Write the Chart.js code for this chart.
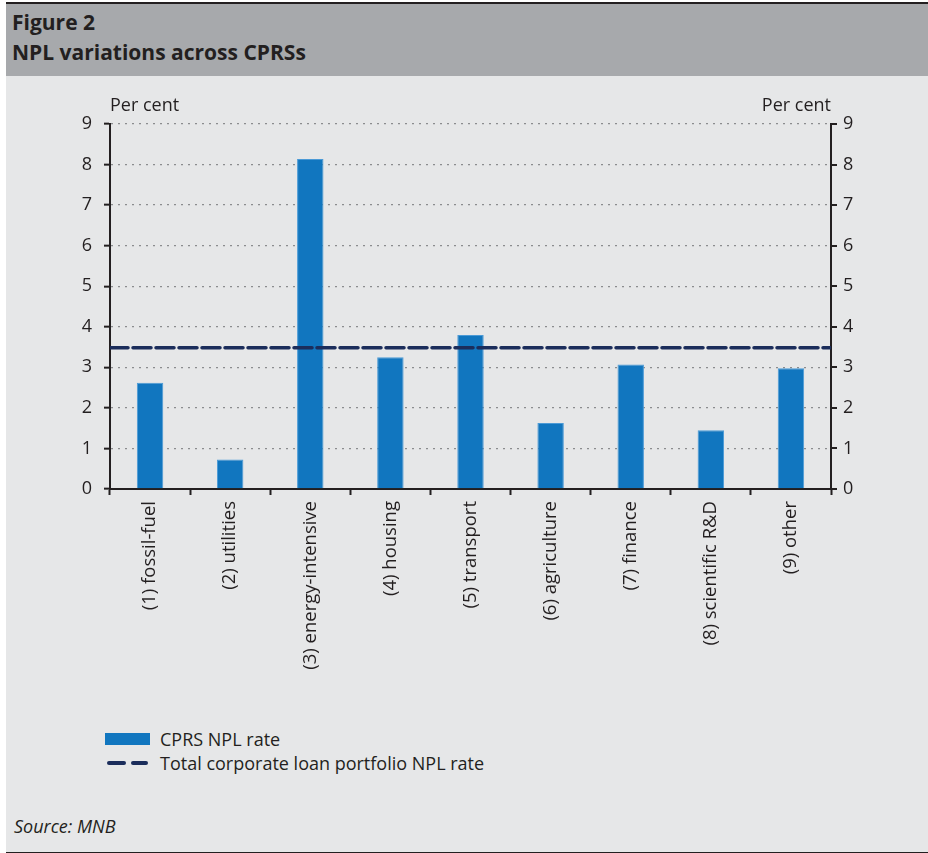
<!DOCTYPE html>
<html>
<head>
<meta charset="utf-8">
<script src="https://cdn.jsdelivr.net/npm/chart.js@4"></script>
<style>
  body { margin: 0; width: 928px; height: 853px; background: #fff; font-family: "Open Sans", sans-serif; color: #231f20; position: relative; overflow: hidden; }
  .panel { position: absolute; left: 6px; top: 2px; width: 922px; height: 848px; background: #e6e7e8; border-top: 2px solid #231f20; border-bottom: 3px solid #231f20; }
  .head { position: absolute; left: 0; top: 0; width: 100%; height: 72px; background: #a7a9ac; }
  .head div { position: absolute; left: 6px; font-weight: bold; font-size: 21px; line-height: 26px; }
  .wrap { position: absolute; left: -6px; top: 88px; width: 928px; height: 600px; }
  .unit { position: absolute; top: 94px; font-size: 18px; line-height: 20px; }
  .legend { position: absolute; left: 105px; top: 729px; font-size: 18px; }
  .legend .row { position: relative; height: 24px; }
  .legend .box { position: absolute; left: 0; top: 4px; width: 45px; height: 12px; background: #1176bf; }
  .legend .dash { position: absolute; top: 8px; height: 4px; border-radius: 2px; background: #1b2d5b; }
  .legend span { position: absolute; left: 55px; top: 0; line-height: 20px; white-space: nowrap; }
  .source { position: absolute; left: 14px; top: 816px; font-size: 18px; line-height: 20px; font-style: italic; }
</style>
</head>
<body>
<div class="panel">
  <div class="head">
    <div style="top:5px">Figure 2</div>
    <div style="top:35px">NPL variations across CPRSs</div>
  </div>
  <div class="wrap"><canvas id="npl"></canvas></div>
</div>
<div class="unit" style="left:110px">Per cent</div>
<div class="unit" style="right:97px">Per cent</div>
<div class="legend">
  <div class="row"><div class="box"></div><span>CPRS NPL rate</span></div>
  <div class="row"><div class="dash" style="left:2px;width:19px"></div><div class="dash" style="left:26px;width:17px"></div><span>Total corporate loan portfolio NPL rate</span></div>
</div>
<div class="source">Source: MNB</div>

<script>
// CPRS categories and NPL rates (per cent)
const sectors = ['(1) fossil-fuel', '(2) utilities', '(3) energy-intensive', '(4) housing', '(5) transport',
  '(6) agriculture', '(7) finance', '(8) scientific R&D', '(9) other'];
const cprsRate = [2.62, 0.73, 8.14, 3.25, 3.8, 1.63, 3.07, 1.45, 2.98];
const totalRate = 3.48;
const yTicks = [0, 1, 2, 3, 4, 5, 6, 7, 8, 9];

const axisColor = '#231f20';
const tickFont = { family: 'Open Sans', size: 18 };

// total line runs across the whole plot, so it sits on its own 0..1 x scale
const totalLine = [{ x: 0, y: totalRate }, { x: 1, y: totalRate }];

new Chart(document.getElementById('npl'), {
  data: {
    labels: sectors,
    datasets: [
      {
        type: 'bar',
        data: cprsRate,
        xAxisID: 'x',
        yAxisID: 'y',
        backgroundColor: '#1176bf',
        borderColor: '#4b9ad6',
        borderWidth: 1,
        borderSkipped: 'bottom',
        grouped: false,
        barPercentage: 0.33,
        categoryPercentage: 1,
        order: 2
      },
      {
        type: 'line',
        data: totalLine,
        xAxisID: 'xLine',
        yAxisID: 'y',
        borderColor: '#1b2d5b',
        borderWidth: 3.5,
        borderDash: [18, 5],
        borderCapStyle: 'round',
        pointRadius: 0,
        order: 1
      }
    ]
  },
  options: {
    responsive: true,
    maintainAspectRatio: false,
    animation: false,
    layout: { padding: { top: 32, left: 0, right: 0, bottom: 0 } },
    plugins: { legend: { display: false }, tooltip: { enabled: false } },
    scales: {
      x: {
        type: 'category',
        position: 'bottom',
        offset: true,
        afterFit: s => { s.height = 203; },
        grid: { offset: true, drawOnChartArea: false, drawTicks: true, tickLength: 6, tickColor: axisColor, tickWidth: 2 },
        border: { color: axisColor, width: 2 },
        ticks: { color: axisColor, font: { family: 'Open Sans', size: 18.5 }, minRotation: 90, maxRotation: 90, padding: 6 }
      },
      xLine: { type: 'linear', min: 0, max: 1, display: false },
      y: {
        position: 'left',
        min: 0, max: 9,
        afterFit: s => { s.width = 110; },
        afterBuildTicks: s => { s.ticks = yTicks.map(v => ({ value: v })); },
        grid: { color: '#8b8c8e', lineWidth: 1.3, tickLength: 6, tickColor: axisColor, tickWidth: 2, tickBorderDash: [] },
        border: { color: axisColor, width: 2, dash: [2, 5] },
        ticks: { color: axisColor, font: tickFont, padding: 12 }
      },
      yRight: {
        position: 'right',
        min: 0, max: 9,
        afterFit: s => { s.width = 97; },
        afterBuildTicks: s => { s.ticks = yTicks.map(v => ({ value: v })); },
        grid: { drawOnChartArea: false, tickLength: 6, color: axisColor, lineWidth: 2 },
        border: { color: axisColor, width: 2 },
        ticks: { color: axisColor, font: tickFont, padding: 6 }
      }
    }
  }
});
</script>
</body>
</html>
